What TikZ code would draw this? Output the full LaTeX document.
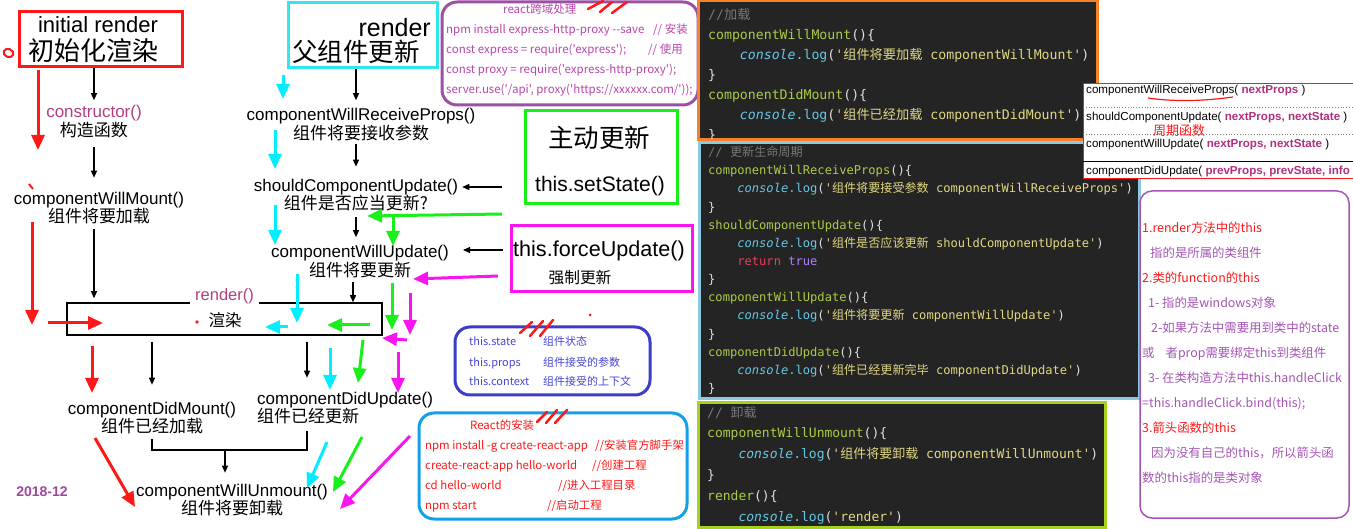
\documentclass[tikz,border=0pt]{standalone}
\usepackage{fontspec}
\setmainfont{Liberation Sans}
\setmonofont{DejaVu Sans Mono}
\newfontfamily\cjk{Noto Sans CJK SC}
\usetikzlibrary{positioning,arrows.meta}

\definecolor{initred}{RGB}{255,24,24}
\definecolor{parentcyan}{RGB}{50,230,240}
\definecolor{flowcyan}{RGB}{0,238,255}
\definecolor{flowgreen}{RGB}{25,240,25}
\definecolor{flowmag}{RGB}{250,20,240}
\definecolor{hookpurple}{RGB}{176,64,128}
\definecolor{datepurple}{RGB}{160,70,160}
\definecolor{proxypurple}{RGB}{155,80,165}
\definecolor{proxytext}{RGB}{185,70,170}
\definecolor{stateblue}{RGB}{60,60,200}
\definecolor{statetext}{RGB}{70,70,215}
\definecolor{reactblue}{RGB}{20,160,230}
\definecolor{notepurple}{RGB}{165,85,180}
\definecolor{codebg}{RGB}{36,36,36}
\definecolor{codecmt}{RGB}{120,120,120}
\definecolor{codefn}{RGB}{170,205,70}
\definecolor{codecon}{RGB}{102,200,230}
\definecolor{codestr}{RGB}{225,215,130}
\definecolor{codekw}{RGB}{235,60,95}
\definecolor{codebool}{RGB}{174,129,255}
\definecolor{codetxt}{RGB}{225,225,225}
\definecolor{mountorange}{RGB}{245,130,40}
\definecolor{updblue}{RGB}{140,200,225}
\definecolor{unmountlime}{RGB}{165,210,30}
\definecolor{argmag}{RGB}{176,48,127}

\newcommand\zh[1]{{\cjk #1}}
\newcommand\fnc[1]{\textcolor{codefn}{#1}}
\newcommand\ctxt[1]{\textcolor{codetxt}{#1}}
\newcommand\logline[2]{\phantom{xxxx}\textcolor{codecon}{\itshape console}\textcolor{codecon}{.log}\ctxt{(}\textcolor{codestr}{'\zh{#1} #2'}\ctxt{)}}
\newcommand\argb[1]{\textbf{\textcolor{argmag}{#1}}}

\begin{document}
\begin{tikzpicture}[
  x=1pt, y=-1pt,
  every node/.style={inner sep=0pt},
  hook/.style={align=center, font=\fontsize{17}{18.5}\selectfont},
  hdrbox/.style={draw, line width=3pt},
  notebox/.style={draw, rounded corners=15pt, line width=3pt},
  codepanel/.style={fill=codebg, line width=3pt},
  codelines/.style={anchor=base west, align=left, text=codetxt},
  rowtxt/.style={anchor=west, font=\fontsize{11.6}{14}\selectfont},
  blk/.style={-{Triangle[length=7pt,width=6pt]}, line width=1.3pt},
  flowarr/.style={-{Triangle[length=15pt,width=13pt]}, line width=3pt},
  slash/.style={initred, line width=2.5pt, line cap=round}
]
\useasboundingbox (0,0) rectangle (1353,529);
\fill[white] (0,0) rectangle (1353,529);

%% --- Left track: initial render ------------------------------
\node[hdrbox, draw=initred, minimum width=163, minimum height=55] (init) at (100.5,39.5) {};
\node[font=\fontsize{22}{26}\selectfont] (initen) at (98,25) {initial render};
\node[font=\cjk\fontsize{26}{30}\selectfont] (initzh) at (93,51) {初始化渲染};
\draw[initred, line width=2pt, rotate around={-20:(8.5,53)}] (8.5,53) ellipse (5pt and 4pt);

\node[hook] (ctor) at (94,121.5) {\textcolor{hookpurple}{constructor()}\\\zh{构造函数}};
\node[hook] (cwm) at (99,208) {componentWillMount()\\\zh{组件将要加载}};

%% --- Middle track: parent render -----------------------------
\node[hdrbox, draw=parentcyan, minimum width=149, minimum height=65] (parent) at (362.5,35.5) {};
\node[font=\fontsize{25}{30}\selectfont, anchor=east] (parenten) at (431,28) {render};
\node[font=\cjk\fontsize{25.5}{30}\selectfont] (parentzh) at (356,52) {父组件更新};

\node[hook] (cwrp) at (361,124.5) {componentWillReceiveProps()\\\zh{组件将要接收参数}};
\node[hook] (scu) at (356,195) {shouldComponentUpdate()\\\zh{组件是否应当更新?}};
\node[hook] (cwup) at (360,261.5) {componentWillUpdate()\\\zh{组件将要更新}};

%% --- Render box ----------------------------------------------
\node[draw, line width=1.5pt, minimum width=315, minimum height=32] (rbox) at (224.5,319) {};
\node[fill=white, inner xsep=5pt, inner ysep=2pt, anchor=base, text=hookpurple,
      font=\fontsize{16.5}{20}\selectfont] (rlabel) at (224.5,301) {render()};
\node[font=\cjk\fontsize{16.5}{20}\selectfont] (rzh) at (225,320) {渲染};
\fill[initred] (197,322) circle (1.8pt);

%% --- After render --------------------------------------------
\node[hook] (cdm) at (152,418) {componentDidMount()\\\zh{组件已经加载}};
\node[hook, align=left, anchor=west] (cdu) at (257,408) {componentDidUpdate()\\\zh{组件已经更新}};
\node[hook] (cwu) at (232,500) {componentWillUnmount()\\\zh{组件将要卸载}};
\coordinate (unjoin) at (225,450);

\node[font=\bfseries\fontsize{14}{16}\selectfont, text=datepurple] (stamp) at (42,492) {2018-12};

%% --- Black flow ----------------------------------------------
\draw[blk, shorten >=5pt] (init.south -| ctor) -- (ctor.north);
\draw[blk, shorten <=9pt, shorten >=14pt] (ctor.south) -- (ctor.south |- cwm.north);
\draw[blk, shorten <=5pt, shorten >=4pt] (cwm.south -| ctor) -- (ctor |- rbox.north);
\draw[blk, shorten <=6pt, shorten >=17pt] (rbox.south -| cdm) -- (cdm.north);
\draw[blk, shorten <=6pt, shorten >=14pt] (rbox.south -| cdu.north west) ++(50,0) -- ([xshift=50pt]cdu.north west);
\draw[line width=1.5pt] ([yshift=-5pt]cdm.south) |- (unjoin) -| ([xshift=50pt,yshift=-7pt]cdu.south west);
\draw[blk, shorten >=11pt] (unjoin) -- (unjoin |- cwu.north);

\draw[blk, shorten >=8pt] (parent.south -| scu) -- (scu |- cwrp.north);
\draw[blk, shorten <=3pt, shorten >=12pt] (cwrp.south -| scu) -- (scu.north);
\draw[blk, shorten <=6pt, shorten >=8pt] (scu.south) -- (scu |- cwup.north);
\draw[blk, shorten <=4pt] (cwup.south -| 353,0) -- (rbox.north -| 353,0);

%% --- Update triggers -----------------------------------------
\node[hdrbox, draw=flowgreen, minimum width=152, minimum height=93] (activebox) at (601,157.5) {};
\node[font=\cjk\fontsize{25.5}{30}\selectfont] (activezh) at (599,138) {主动更新};
\node[font=\fontsize{21}{25}\selectfont] (setst) at (600,186) {this.setState()};

\node[hdrbox, draw=flowmag, minimum width=181, minimum height=66] (forcebox) at (601.5,259) {};
\node[font=\fontsize{21.6}{25}\selectfont] (forcest) at (599,251) {this.forceUpdate()};
\node[font=\cjk\fontsize{15.7}{20}\selectfont] (forcezh) at (580,278) {强制更新};

\coordinate (setin) at (502,187);
\coordinate (forcein) at (503,250);
\draw[blk, shorten >=4pt] (setin) -- (setin -| scu.east);
\draw[blk, shorten >=14pt] (forcein) -- (forcein -| cwup.east);

%% --- Red track -----------------------------------------------
\coordinate (red1s) at (38,70);   \coordinate (red1e) at (38,150);
\coordinate (red2s) at (32,222);  \coordinate (red2e) at (32,325);
\coordinate (red3s) at (48,323);  \coordinate (red3e) at (103,323);
\coordinate (red4s) at (92,346);  \coordinate (red4e) at (92,393);
\coordinate (red5s) at (95,438);  \coordinate (red5e) at (135,507);
\foreach \i in {1,...,5} \draw[flowarr, initred] (red\i s) -- (red\i e);
\draw[initred, line width=2pt] (29,184) -- (33,189);

%% --- Cyan track ----------------------------------------------
\coordinate (cyan1s) at (283,75);  \coordinate (cyan1e) at (283,99);
\coordinate (cyan2s) at (275,130); \coordinate (cyan2e) at (275,169);
\coordinate (cyan3s) at (275,205); \coordinate (cyan3e) at (275,245);
\coordinate (cyan4s) at (297,274); \coordinate (cyan4e) at (297,323);
\coordinate (cyan5s) at (288,327); \coordinate (cyan5e) at (265,327);
\coordinate (cyan6s) at (330,348); \coordinate (cyan6e) at (330,390);
\coordinate (cyan7s) at (327,442); \coordinate (cyan7e) at (307,488);
\foreach \i in {1,...,7} \draw[flowarr, flowcyan] (cyan\i s) -- (cyan\i e);

%% --- Green track ---------------------------------------------
\coordinate (grn1s) at (502,214); \coordinate (grn1e) at (367,216);
\coordinate (grn2s) at (393,215); \coordinate (grn2e) at (393,246);
\coordinate (grn3s) at (370,325); \coordinate (grn3e) at (327,325);
\coordinate (grn4s) at (392,283); \coordinate (grn4e) at (392,330);
\coordinate (grn5s) at (363,340); \coordinate (grn5e) at (358,383);
\coordinate (grn6s) at (362,437); \coordinate (grn6e) at (333,492);
\foreach \i in {1,...,6} \draw[flowarr, flowgreen] (grn\i s) -- (grn\i e);

%% --- Magenta track -------------------------------------------
\coordinate (mag1s) at (498,276); \coordinate (mag1e) at (413,279);
\coordinate (mag2s) at (410,293); \coordinate (mag2e) at (410,335);
\coordinate (mag3s) at (407,340); \coordinate (mag3e) at (382,338);
\coordinate (mag4s) at (398,352); \coordinate (mag4e) at (398,393);
\coordinate (mag5s) at (410,436); \coordinate (mag5e) at (340,509);
\foreach \i in {1,...,5} \draw[flowarr, flowmag] (mag\i s) -- (mag\i e);

%% --- Note boxes ----------------------------------------------
\node[notebox, draw=proxypurple, minimum width=256, minimum height=103] (proxybox) at (570,53.5) {};
\node[anchor=base west, align=left, text=proxytext, font=\cjk\fontsize{11.5}{20}\selectfont] (proxytxt) at (446,94)
     {\hspace*{57pt}react跨域处理\\
      \makebox[207pt][l]{npm install express-http-proxy -{}-save}// 安装\\
      \makebox[202pt][l]{const express = require('express');}// 使用\\
      const proxy = require('express-http-proxy');\\
      server.use('/api', proxy('https://xxxxxx.com/'));};
\foreach \xa/\ya/\xb/\yb in {588/9/603/1, 600/12/612/2, 612/13/627/2}
  \draw[slash] (\xa,\ya) -- (\xb,\yb);

\node[notebox, draw=stateblue, minimum width=195, minimum height=68] (statebox) at (552.5,361) {};
\node[anchor=base west, align=left, text=statetext, font=\cjk\fontsize{11}{20}\selectfont] (statetxt) at (469,386)
     {\makebox[74pt][l]{this.state}组件状态\\
      \makebox[74pt][l]{this.props}组件接受的参数\\
      \makebox[74pt][l]{this.context}组件接受的上下文};
\foreach \xa/\ya/\xb/\yb in {520/333/532/322, 530/336/543/321, 540/336/553/320}
  \draw[slash] (\xa,\ya) -- (\xb,\yb);
\fill[initred] (590,315) circle (1.5pt);

\node[notebox, draw=reactblue, minimum width=268, minimum height=106] (reactbox) at (553,466) {};
\node[anchor=base west, align=left, text=initred, font=\cjk\fontsize{11.4}{20}\selectfont] (reacttxt) at (425,509)
     {\hspace*{45pt}React的安装\\
      \makebox[170pt][l]{npm install -g create-react-app}//安装官方脚手架\\
      \makebox[167pt][l]{create-react-app hello-world}//创建工程\\
      \makebox[133pt][l]{cd hello-world}//进入工程目录\\
      \makebox[122pt][l]{npm start}//启动工程};
\foreach \xa/\ya/\xb/\yb in {537/422/547/412, 546/423/557/410, 555/423/567/410}
  \draw[slash] (\xa,\ya) -- (\xb,\yb);

%% --- Code panels ---------------------------------------------
\node[codepanel, draw=mountorange, minimum width=399, minimum height=139] (mountpanel) at (897.5,70.5) {};
\begin{scope}
  \clip ([shift={(3pt,3pt)}]mountpanel.south west) rectangle ([shift={(-3pt,-3pt)}]mountpanel.north east);
  \node[codelines, font=\ttfamily\fontsize{13.2}{19.9}\selectfont] (mountcode) at (708,139.4)
       {\textcolor{codecmt}{//\zh{加载}}\\
        \fnc{componentWillMount}\ctxt{()\{}\\
        \logline{组件将要加载}{componentWillMount}\\
        \ctxt{\}}\\
        \fnc{componentDidMount}\ctxt{()\{}\\
        \logline{组件已经加载}{componentDidMount}\\
        \ctxt{\}}};
\end{scope}

\node[codepanel, draw=updblue, minimum width=440, minimum height=256] (updpanel) at (919,271) {};
\begin{scope}
  \clip ([shift={(3pt,3pt)}]updpanel.south west) rectangle ([shift={(-3pt,-3pt)}]updpanel.north east);
  \node[codelines, font=\ttfamily\fontsize{12.1}{18.15}\selectfont] (updcode) at (708,392.5)
       {\textcolor{codecmt}{// \zh{更新生命周期}}\\
        \fnc{componentWillReceiveProps}\ctxt{()\{}\\
        \logline{组件将要接受参数}{componentWillReceiveProps}\\
        \ctxt{\}}\\
        \fnc{shouldComponentUpdate}\ctxt{()\{}\\
        \logline{组件是否应该更新}{shouldComponentUpdate}\\
        \phantom{xxxx}\textcolor{codekw}{return} \textcolor{codebool}{true}\\
        \ctxt{\}}\\
        \fnc{componentWillUpdate}\ctxt{()\{}\\
        \logline{组件将要更新}{componentWillUpdate}\\
        \ctxt{\}}\\
        \fnc{componentDidUpdate}\ctxt{()\{}\\
        \logline{组件已经更新完毕}{componentDidUpdate}\\
        \ctxt{\}}};
\end{scope}

\node[codepanel, draw=unmountlime, minimum width=407, minimum height=124] (unmpanel) at (901.5,465) {};
\begin{scope}
  \clip ([shift={(3pt,3pt)}]unmpanel.south west) rectangle ([shift={(-3pt,-3pt)}]unmpanel.north east);
  \node[codelines, font=\ttfamily\fontsize{13}{20.8}\selectfont] (unmcode) at (707,521)
       {\textcolor{codecmt}{// \zh{卸载}}\\
        \fnc{componentWillUnmount}\ctxt{()\{}\\
        \logline{组件将要卸载}{componentWillUnmount}\\
        \ctxt{\}}\\
        \fnc{render}\ctxt{()\{}\\
        \phantom{xxxx}\textcolor{codecon}{\itshape console}\textcolor{codecon}{.log}\ctxt{(}\textcolor{codestr}{'render'}\ctxt{)}};
\end{scope}

%% --- Lifecycle signature table -------------------------------
\node[draw=initred, fill=white, line width=1pt, anchor=north west,
      minimum width=272, minimum height=95] (cycletbl) at (1083,83) {};
\begin{scope}
  \clip (1083,83) rectangle (1353,178);
  \node[rowtxt] (rowrecv) at (1086,91) {componentWillReceiveProps( \argb{nextProps} )};
  \node[rowtxt] (rowshould) at (1086,118) {shouldComponentUpdate( \argb{nextProps, nextState} )};
  \node[rowtxt] (rowwill) at (1086,145) {componentWillUpdate( \argb{nextProps, nextState} )};
  \node[rowtxt] (rowdid) at (1086,172) {componentDidUpdate( \argb{prevProps, prevState, info}};
  \draw[gray, dotted, line width=0.8pt] (1083,107) -- (1353,107);
  \draw[gray, dotted, line width=0.8pt] (1083,134) -- (1353,134);
  \draw[black, line width=0.8pt] (1083,161) -- (1353,161);
\end{scope}
\node[font=\cjk\fontsize{13}{16}\selectfont, text=initred, anchor=west] (cyclezh) at (1153,131) {周期函数};
\draw[initred, line width=1.2pt] (1148,98) .. controls (1175,102) and (1205,101) .. (1233,97);

%% --- Right note: this binding --------------------------------
\node[draw=notepurple, line width=1.5pt, rounded corners=12pt,
      minimum width=209, minimum height=327] (thisbox) at (1244.5,354.5) {};
\node[anchor=base west, align=left, text=notepurple, font=\cjk\fontsize{12.4}{25}\selectfont] (thisnote) at (1142,482.5)
     {\textcolor{initred}{1.render方法中的this}\\
      \hspace*{8pt}指的是所属的类组件\\
      \textcolor{initred}{2.类的function的this}\\
      \hspace*{6pt}1- 指的是windows对象\\
      \hspace*{9pt}2-如果方法中需要用到类中的state\\
      或\hspace*{11pt}者prop需要绑定this到类组件\\
      \hspace*{6pt}3- 在类构造方法中this.handleClick\\
      =this.handleClick.bind(this);\\
      \textcolor{initred}{3.箭头函数的this}\\
      \hspace*{9pt}因为没有自己的this，所以箭头函\\
      数的this指的是类对象};

\end{tikzpicture}
\end{document}
